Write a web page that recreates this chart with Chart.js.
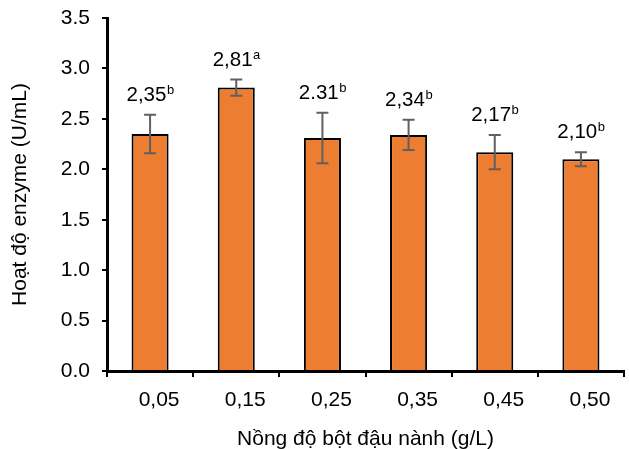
<!DOCTYPE html>
<html>
<head>
<meta charset="utf-8">
<script src="https://cdn.jsdelivr.net/npm/chart.js@4"></script>
<style>
  html, body { margin: 0; padding: 0; background: #fff; }
  #wrap { width: 629px; height: 449px; }
</style>
</head>
<body>
<div id="wrap"><canvas id="enzChart" width="629" height="449"></canvas></div>
<script>
// data
const concentrations = ['0,05', '0,15', '0,25', '0,35', '0,45', '0,50'];
const activity = [2.35, 2.81, 2.31, 2.34, 2.17, 2.10];
const errors = [0.19, 0.08, 0.25, 0.15, 0.17, 0.07];
const valueLabels = ['2,35', '2,81', '2.31', '2,34', '2,17', '2,10'];
const letters = ['b', 'a', 'b', 'b', 'b', 'b'];

Chart.defaults.font.family = '"Liberation Sans", Arial, sans-serif';
Chart.defaults.color = '#000';

// error bars + value labels with superscript letters
const errorBars = {
    id: 'errorBars',
    afterDatasetsDraw(chart) {
        const { ctx, scales: { y } } = chart;
        const meta = chart.getDatasetMeta(0);
        ctx.save();
        meta.data.forEach((bar, i) => {
            const cx = bar.x;
            const top = y.getPixelForValue(activity[i] + errors[i]);
            const bot = y.getPixelForValue(activity[i] - errors[i]);
            ctx.strokeStyle = '#606060';
            ctx.lineWidth = 2;
            ctx.beginPath();
            ctx.moveTo(cx, top); ctx.lineTo(cx, bot);
            ctx.moveTo(cx - 6, top); ctx.lineTo(cx + 6, top);
            ctx.moveTo(cx - 6, bot); ctx.lineTo(cx + 6, bot);
            ctx.stroke();

            // label
            ctx.fillStyle = '#000';
            ctx.textBaseline = 'alphabetic';
            ctx.textAlign = 'left';
            ctx.font = '20.5px "Liberation Sans", Arial, sans-serif';
            const w1 = ctx.measureText(valueLabels[i]).width;
            ctx.font = '13px "Liberation Sans", Arial, sans-serif';
            const w2 = ctx.measureText(letters[i]).width;
            const startX = cx - (w1 + w2) / 2;
            const base = top - 14;
            ctx.font = '20.5px "Liberation Sans", Arial, sans-serif';
            ctx.fillText(valueLabels[i], startX, base);
            ctx.font = '13px "Liberation Sans", Arial, sans-serif';
            ctx.fillText(letters[i], startX + w1 + 0.5, base - 7);
        });
        ctx.restore();
    }
};

new Chart(document.getElementById('enzChart'), {
    type: 'bar',
    data: {
        labels: concentrations,
        datasets: [{
            data: activity,
            backgroundColor: '#ED7D31',
            borderColor: '#000',
            borderWidth: 2,
            barPercentage: 0.43,
            categoryPercentage: 1
        }]
    },
    options: {
        responsive: false,
        animation: false,
        devicePixelRatio: 1,
        layout: { padding: { top: 18, right: 5, left: 0, bottom: 0 } },
        plugins: { legend: { display: false }, tooltip: { enabled: false } },
        scales: {
            x: {
                afterFit: (s) => {
                    s.height = 78;
                    s.paddingLeft = 0; s.paddingRight = 0;
                },
                border: { display: true, color: '#000', width: 3 },
                grid: {
                    offset: true,
                    drawOnChartArea: false,
                    drawTicks: true,
                    tickLength: 6,
                    color: '#000',
                    lineWidth: 2
                },
                ticks: { font: { size: 21 }, padding: 11, labelOffset: 9, color: '#000' },
                title: {
                    display: true,
                    text: 'Nồng độ bột đậu nành (g/L)',
                    font: { size: 21, lineHeight: 0.9 },
                    padding: { top: 0, bottom: 0 },
                    color: '#000'
                }
            },
            y: {
                min: 0,
                max: 3.5,
                afterFit: (s) => {
                    s.width = 107;
                    s.paddingTop = 0; s.paddingBottom = 0;
                },
                border: { display: true, color: '#000', width: 3 },
                grid: {
                    drawOnChartArea: false,
                    drawTicks: true,
                    tickLength: 5,
                    color: '#000',
                    lineWidth: 2
                },
                ticks: {
                    stepSize: 0.5,
                    font: { size: 21 },
                    padding: 12,
                    color: '#000',
                    callback: (v) => v.toFixed(1)
                },
                title: {
                    display: true,
                    text: 'Hoạt độ enzyme (U/mL)',
                    font: { size: 21 },
                    padding: { top: 8, bottom: 0 },
                    color: '#000'
                }
            }
        }
    },
    plugins: [errorBars]
});
</script>
</body>
</html>
